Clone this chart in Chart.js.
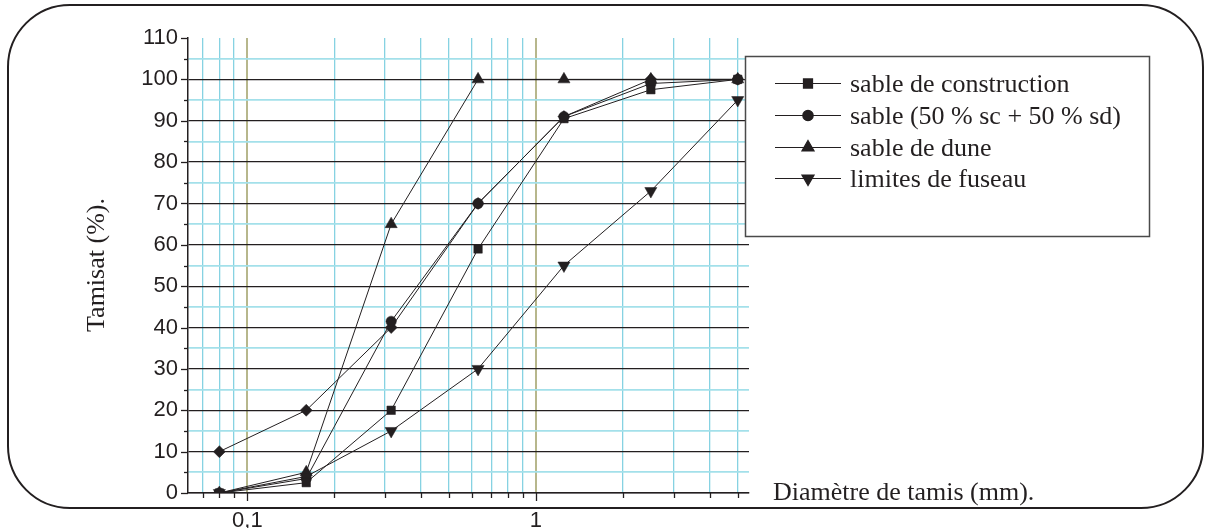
<!DOCTYPE html>
<html>
<head>
<meta charset="utf-8">
<script src="https://cdn.jsdelivr.net/npm/chart.js@4.4.1/dist/chart.umd.min.js"></script>
<style>
  html, body { margin: 0; padding: 0; background: #ffffff; }
  #wrap { width: 1210px; height: 528px; position: relative; }
  canvas { display: block; }
</style>
</head>
<body>
<div id="wrap"><canvas id="c" width="1210" height="528"></canvas></div>
<script>
// ---- Data ----
const sieveSizes = [0.08, 0.16, 0.315, 0.63, 1.25, 2.5, 5];
const sableConstruction = [0, 2.5, 20, 59, 90.5, 97.5, 100];
const sableMelange = [0, 3.5, 41.5, 70, 91, 99, 100];
const sableDune = [0, 5, 65, 100, 100, 100, 100];
const fuseauInf = [0, 4, 15, 30, 55, 73, 95];
const fuseauSup = [10, 20, 40, 70, 91, 100, 100];

const seriesLabels = ['sable de construction', 'sable (50 % sc + 50 % sd)', 'sable de dune', 'limites de fuseau'];
const xTickValues = [0.07, 0.08, 0.09, 0.1, 0.2, 0.3, 0.4, 0.5, 0.6, 0.7, 0.8, 0.9, 1, 2, 3, 4, 5];
const xTickLabels = { '0.1': '0,1', '1': '1' };
const yTickValues = [0, 5, 10, 15, 20, 25, 30, 35, 40, 45, 50, 55, 60, 65, 70, 75, 80, 85, 90, 95, 100, 105, 110];
const xAxisTitle = 'Diamètre de tamis (mm).';
const yAxisTitle = 'Tamisat (%).';

// ---- Styles ----
const INK = '#231f20';
const CYAN_H = '#a3e0ea';
const CYAN_V = '#86d2e2';
const OLIVE = '#b7b78c';
const SERIF = '"Liberation Serif", "Times New Roman", serif';
const SANS = '"Liberation Sans", Arial, sans-serif';

function pts(vals) { return sieveSizes.map((x, i) => ({ x: x, y: vals[i] })); }

const markerDefs = [
  { style: 'rect', radius: 6.0, rotation: 0 },
  { style: 'circle', radius: 5.2, rotation: 0 },
  { style: 'triangle', radius: 7.0, rotation: 0 },
  { style: 'triangle', radius: 7.0, rotation: 180 },
  { style: 'rectRot', radius: 6.0, rotation: 0 }
];

function ds(label, vals, m) {
  return {
    label: label,
    data: pts(vals),
    borderColor: INK,
    backgroundColor: INK,
    borderWidth: 1,
    pointStyle: m.style,
    pointRadius: m.radius,
    pointRotation: m.rotation,
    pointBackgroundColor: INK,
    pointBorderColor: INK,
    pointBorderWidth: 0.5,
    pointHoverRadius: m.radius,
    tension: 0,
    fill: false
  };
}

const datasets = [
  ds(seriesLabels[0], sableConstruction, markerDefs[0]),
  ds(seriesLabels[1], sableMelange, markerDefs[1]),
  ds(seriesLabels[2], sableDune, markerDefs[2]),
  ds(seriesLabels[3], fuseauInf, markerDefs[3]),
  ds('', fuseauSup, markerDefs[4])
];

const decorPlugin = {
  id: 'decor',
  afterDraw(chart) {
    const ctx = chart.ctx;
    const xs = chart.scales.x, ys = chart.scales.y;
    const area = chart.chartArea;
    ctx.save();
    // tick marks
    ctx.strokeStyle = INK;
    ctx.lineWidth = 1.3;
    yTickValues.forEach(v => {
      const py = Math.round(ys.getPixelForValue(v)) + 0.5;
      const len = v % 10 === 0 ? 7 : 4;
      ctx.beginPath();
      ctx.moveTo(area.left - len, py);
      ctx.lineTo(area.left, py);
      ctx.stroke();
    });
    xTickValues.forEach(v => {
      const px = Math.round(xs.getPixelForValue(v)) + 0.5;
      const len = (v === 0.1 || v === 1) ? 8 : 5;
      ctx.beginPath();
      ctx.moveTo(px, area.bottom);
      ctx.lineTo(px, area.bottom + len);
      ctx.stroke();
    });

    // rounded frame
    const fx = 8, fy = 5, fw = 1203 - 8, fh = 508 - 5, r = 62;
    ctx.beginPath();
    ctx.moveTo(fx + r, fy);
    ctx.lineTo(fx + fw - r, fy);
    ctx.arcTo(fx + fw, fy, fx + fw, fy + r, r);
    ctx.lineTo(fx + fw, fy + fh - r);
    ctx.arcTo(fx + fw, fy + fh, fx + fw - r, fy + fh, r);
    ctx.lineTo(fx + r, fy + fh);
    ctx.arcTo(fx, fy + fh, fx, fy + fh - r, r);
    ctx.lineTo(fx, fy + r);
    ctx.arcTo(fx, fy, fx + r, fy, r);
    ctx.closePath();
    ctx.lineWidth = 2;
    ctx.strokeStyle = INK;
    ctx.stroke();

    // legend box
    const lx = 745, ly = 56, lw = 1149 - 745, lh = 236 - 56;
    ctx.fillStyle = '#ffffff';
    ctx.fillRect(lx, ly, lw, lh);
    ctx.lineWidth = 1.5;
    ctx.strokeStyle = '#4a4a4a';
    ctx.strokeRect(lx + 0.5, ly + 0.5, lw, lh);

    const rows = [83, 115, 147, 178];
    const legendMarkers = [
      { style: 'rect', radius: 6.4, rotation: 0 },
      { style: 'circle', radius: 5.2, rotation: 0 },
      { style: 'triangle', radius: 7.0, rotation: 0 },
      { style: 'triangle', radius: 7.0, rotation: 180 }
    ];
    ctx.font = '26px ' + SERIF;
    ctx.textAlign = 'left';
    ctx.textBaseline = 'alphabetic';
    for (let i = 0; i < 4; i++) {
      const y = rows[i];
      ctx.strokeStyle = INK;
      ctx.lineWidth = 1.2;
      ctx.beginPath();
      ctx.moveTo(775, y + 0.5);
      ctx.lineTo(841, y + 0.5);
      ctx.stroke();
      const m = legendMarkers[i];
      ctx.fillStyle = INK;
      Chart.helpers.drawPoint(ctx, {
        pointStyle: m.style,
        radius: m.radius,
        rotation: m.rotation,
        borderWidth: 0.5
      }, 808, y + 0.5);
      ctx.fillStyle = INK;
      ctx.fillText(chart.data.datasets[i].label, 850, y + 9);
    }

    // axis titles
    ctx.fillStyle = INK;
    ctx.font = '26px ' + SERIF;
    ctx.textAlign = 'left';
    ctx.textBaseline = 'alphabetic';
    ctx.fillText(xAxisTitle, 773, 500);

    ctx.save();
    ctx.translate(104, 265);
    ctx.rotate(-Math.PI / 2);
    ctx.textAlign = 'center';
    ctx.fillText(yAxisTitle, 0, 0);
    ctx.restore();

    ctx.restore();
  }
};

new Chart(document.getElementById('c'), {
  type: 'line',
  data: { datasets: datasets },
  options: {
    responsive: false,
    animation: false,
    devicePixelRatio: 1,
    layout: { padding: { top: 38, right: 461, left: 0, bottom: 0 } },
    plugins: { legend: { display: false }, tooltip: { enabled: false }, title: { display: false } },
    scales: {
      x: {
        type: 'logarithmic',
        min: 0.0623,
        max: 5.47,
        afterBuildTicks(s) { s.ticks = xTickValues.map(v => ({ value: v })); },
        afterFit(s) { s.height = 35; },
        border: { display: true, color: INK, width: 1.5 },
        grid: {
          drawTicks: false,
          color: (c) => (c.tick && (c.tick.value === 0.1 || c.tick.value === 1)) ? OLIVE : CYAN_V,
          lineWidth: (c) => (c.tick && (c.tick.value === 0.1 || c.tick.value === 1)) ? 2 : 1.3
        },
        ticks: {
          autoSkip: false,
          maxRotation: 0,
          minRotation: 0,
          padding: 15,
          color: INK,
          font: { family: SANS, size: 22 },
          callback: (v) => xTickLabels[String(v)] || ''
        }
      },
      y: {
        type: 'linear',
        min: 0,
        max: 110,
        afterBuildTicks(s) { s.ticks = yTickValues.map(v => ({ value: v })); },
        afterFit(s) { s.width = 188; },
        border: { display: true, color: INK, width: 1.5 },
        grid: {
          drawTicks: false,
          color: (c) => {
            const v = c.tick ? c.tick.value : 0;
            if (v === 110) return 'rgba(0,0,0,0)';
            return v % 10 === 0 ? INK : CYAN_H;
          },
          lineWidth: (c) => {
            const v = c.tick ? c.tick.value : 0;
            return v % 10 === 0 ? 1.2 : 1.8;
          }
        },
        ticks: {
          autoSkip: false,
          padding: 10,
          color: INK,
          font: { family: SANS, size: 22 },
          callback: (v) => (v % 10 === 0 ? String(v) : '')
        }
      }
    }
  },
  plugins: [decorPlugin]
});
</script>
</body>
</html>
